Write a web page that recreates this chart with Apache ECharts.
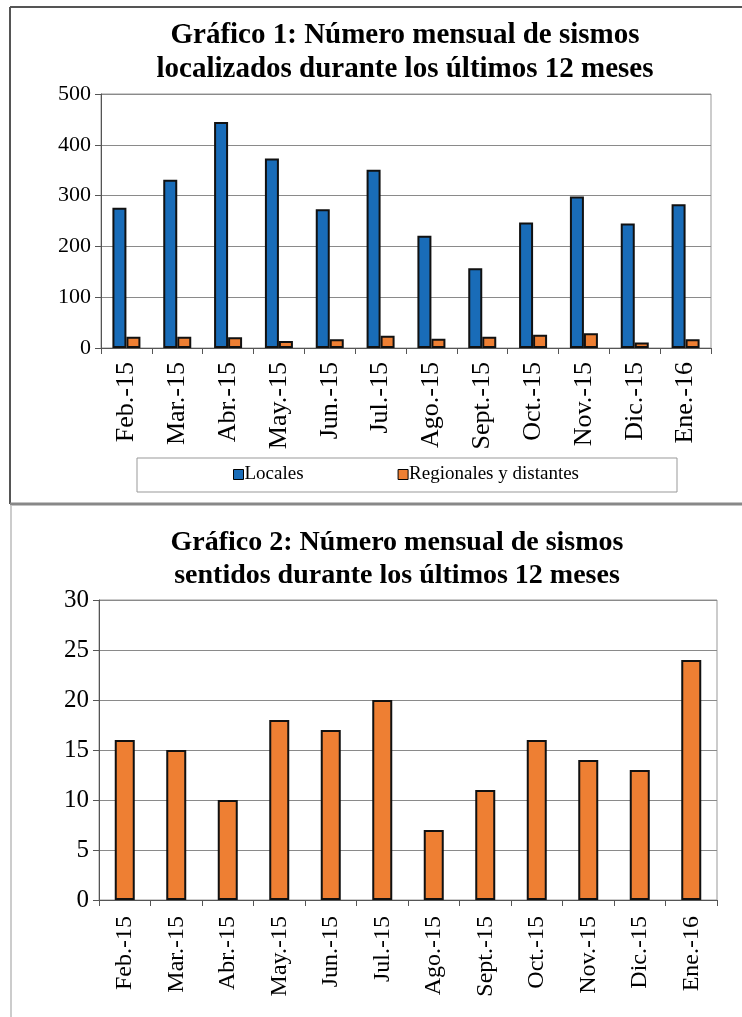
<!DOCTYPE html>
<html>
<head>
<meta charset="utf-8">
<script src="https://cdn.jsdelivr.net/npm/echarts@6/dist/echarts.min.js"></script>
<style>html,body{margin:0;padding:0;background:#fff;}#c{width:742px;height:1017px;}</style>
</head>
<body>
<div id="c"></div>
<script>
const months = ['Feb.-15','Mar.-15','Abr.-15','May.-15','Jun.-15','Jul.-15','Ago.-15','Sept.-15','Oct.-15','Nov.-15','Dic.-15','Ene.-16'];
const locales = [276, 331, 445, 373, 273, 351, 221, 157, 247, 298, 245, 283];
const regionales = [22, 22, 21, 14, 17, 24, 18, 22, 26, 29, 11, 17];
const sentidos = [16, 15, 10, 18, 17, 20, 7, 11, 16, 14, 13, 24];
const title1 = 'Gráfico 1: Número mensual de sismos\nlocalizados durante los últimos 12 meses';
const title2 = 'Gráfico 2: Número mensual de sismos\nsentidos durante los últimos 12 meses';

const FONT = '"Liberation Serif", "Times New Roman", serif';
const BLUE = '#196cb8', ORANGE = '#ee7f33';

const chart = echarts.init(document.getElementById('c'), null, {renderer: 'canvas'});

function xAxisCfg(gi, fs, margin) {
  return {
    type: 'category', gridIndex: gi, data: months,
    axisLine: {lineStyle: {color: '#555', width: 1}},
    axisTick: {show: true, alignWithLabel: false, length: 6, lineStyle: {color: '#555'}},
    axisLabel: {rotate: 90, fontFamily: FONT, fontSize: fs, color: '#000', margin: margin, interval: 0}
  };
}
function yAxisCfg(gi, max, interval, fs) {
  return {
    type: 'value', gridIndex: gi, min: 0, max: max, interval: interval,
    axisLine: {show: true, lineStyle: {color: '#555', width: 1}},
    axisTick: {show: true, length: 6, lineStyle: {color: '#555'}},
    axisLabel: {fontFamily: FONT, fontSize: fs, color: '#000', margin: 10},
    splitLine: {show: true, lineStyle: {color: '#8a8a8a', width: 1}}
  };
}

const option = {
  backgroundColor: '#fff',
  animation: false,
  title: [
    {text: title1, left: 400, top: 14, textAlign: 'center',
     textStyle: {fontFamily: FONT, fontSize: 29, fontWeight: 'bold', color: '#000', lineHeight: 34}},
    {text: title2, left: 392, top: 521, textAlign: 'center',
     textStyle: {fontFamily: FONT, fontSize: 28, fontWeight: 'bold', color: '#000', lineHeight: 33}}
  ],
  legend: {
    data: ['Locales', 'Regionales y distantes'],
    left: 233, top: 465, orient: 'horizontal',
    itemWidth: 10, itemHeight: 10, itemGap: 94, padding: 0,
    icon: 'rect',
    itemStyle: {borderColor: '#000', borderWidth: 1},
    textStyle: {fontFamily: FONT, fontSize: 19, color: '#000', padding: [0, 0, 0, -4]}
  },
  grid: [
    {left: 101, top: 94, width: 610, height: 254, show: true, borderColor: '#999', borderWidth: 1, containLabel: false},
    {left: 99, top: 600, width: 618, height: 300, show: true, borderColor: '#999', borderWidth: 1, containLabel: false}
  ],
  xAxis: [xAxisCfg(0, 26, 14), xAxisCfg(1, 24, 16)],
  yAxis: [yAxisCfg(0, 500, 100, 22), yAxisCfg(1, 30, 5, 25)],
  series: [
    {name: 'Locales', type: 'bar', xAxisIndex: 0, yAxisIndex: 0, data: locales,
     barWidth: 14, barGap: '0%',
     itemStyle: {color: BLUE, borderColor: '#111', borderWidth: 2}},
    {name: 'Regionales y distantes', type: 'bar', xAxisIndex: 0, yAxisIndex: 0, data: regionales,
     barWidth: 14, barGap: '0%',
     itemStyle: {color: ORANGE, borderColor: '#111', borderWidth: 2}},
    {name: 'Sentidos', type: 'bar', xAxisIndex: 1, yAxisIndex: 1, data: sentidos,
     barWidth: 20,
     itemStyle: {color: ORANGE, borderColor: '#111', borderWidth: 2}}
  ],
  graphic: [
    {type: 'rect', shape: {x: 137, y: 458, width: 540, height: 34}, style: {fill: 'none', stroke: '#999', lineWidth: 1}, silent: true},
    {type: 'line', shape: {x1: 10, y1: 7, x2: 742, y2: 7}, style: {stroke: '#555', lineWidth: 2}, silent: true},
    {type: 'line', shape: {x1: 10, y1: 7, x2: 10, y2: 504}, style: {stroke: '#555', lineWidth: 2}, silent: true},
    {type: 'line', shape: {x1: 10, y1: 504, x2: 742, y2: 504}, style: {stroke: '#888', lineWidth: 3}, silent: true},
    {type: 'line', shape: {x1: 11, y1: 506, x2: 11, y2: 1017}, style: {stroke: '#ccc', lineWidth: 2}, silent: true}
  ]
};
chart.setOption(option);
</script>
</body>
</html>
